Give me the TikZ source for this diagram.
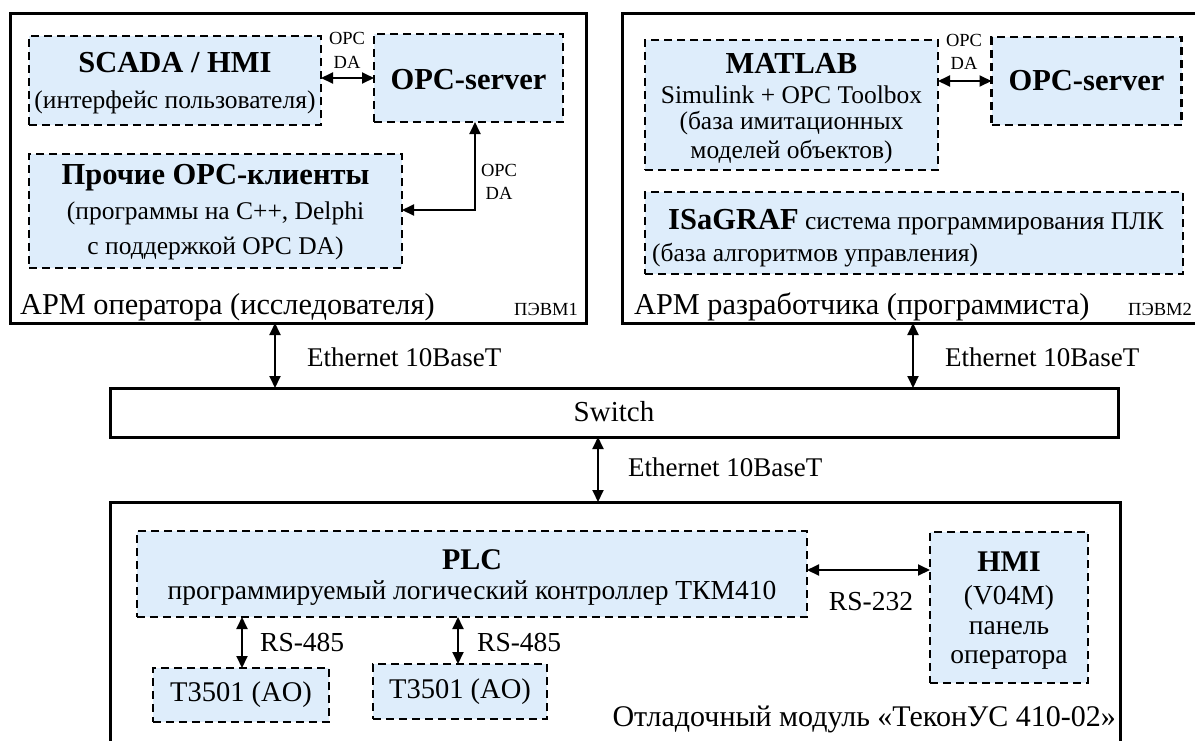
\documentclass[tikz,border=0pt]{standalone}
\usepackage{fontspec}
\setmainfont{Liberation Serif}
\usetikzlibrary{arrows.meta}
\definecolor{boxblue}{RGB}{222,237,251}
\newcommand\fsz[1]{\fontsize{#1}{#1}\selectfont}
\begin{document}
\begin{tikzpicture}[x=1pt,y=-1pt,
  dbox/.style={draw, fill=boxblue, line width=2.3pt, dash pattern=on 8pt off 5pt, inner sep=0pt, outer sep=0pt},
  obox/.style={draw, line width=3pt, inner sep=0pt, outer sep=0pt},
  arr/.style={line width=1.9pt, {Triangle[length=12pt,width=11pt]}-{Triangle[length=12pt,width=11pt]}},
  lbl/.style={inner sep=0pt},
  ttl/.style={lbl, font=\fsz{30.5}\bfseries},
  bttl/.style={lbl, font=\fsz{30}\bfseries},
  txt/.style={lbl, font=\fsz{25.5}},
  btxt/.style={lbl, font=\fsz{27.5}},
  small/.style={lbl, font=\fsz{18.5}},
  arm/.style={lbl, font=\fsz{30.3}, anchor=west},
  eth/.style={lbl, font=\fsz{27}, anchor=west}]
\useasboundingbox (0,0) rectangle (1195,740);
\fill[white] (0,0) rectangle (1195,740);
% outer boxes
\node[obox, minimum width=576pt, minimum height=310pt] (apl) at (298,168) {};
\node[obox, minimum width=575pt, minimum height=310pt] (apr) at (909.5,168) {};
\node[obox, minimum width=1008pt, minimum height=49pt] (sw) at (614,412.5) {};
\node[obox, minimum width=1010pt, minimum height=248pt] (bot) at (615,626) {};
% top-left
\node[dbox, minimum width=292pt, minimum height=89pt] (scada) at (175,80.5) {};
\node[dbox, minimum width=189pt, minimum height=88pt] (opc1) at (468.5,78) {};
\node[dbox, minimum width=373pt, minimum height=114pt] (proch) at (215.5,211) {};
\node[ttl] (t_scada) at (175,63) {SCADA / HMI};
\node[txt] (t_scada2) at (175,102) {(интерфейс пользователя)};
\node[ttl] (t_opc1) at (468.5,80) {OPC-server};
\node[ttl] (t_pr) at (215.5,178) {Прочие OPC-клиенты};
\node[txt] (t_pr2) at (215.5,213) {(программы на C++, Delphi};
\node[txt] (t_pr3) at (215.5,248) {с поддержкой OPC DA)};
\node[small] (o1a) at (347,38) {OPC};
\node[small] (o1b) at (347,62) {DA};
\node[small] (o2a) at (499,170) {OPC};
\node[small] (o2b) at (499,193) {DA};
\node[arm] (arm1) at (20,307) {АРМ оператора (исследователя)};
\node[small, anchor=east] (pc1) at (578,309) {ПЭВМ1};
\draw[arr] (scada.east |- opc1.west) -- (opc1.west);
\coordinate (k1) at (475,210);
\draw[arr] (k1 |- opc1.south) -- (k1) -- (k1 -| proch.east);
% top-right
\node[dbox, minimum width=293pt, minimum height=130pt] (matlab) at (791.5,105) {};
\node[dbox, minimum width=190pt, minimum height=88pt] (opc2) at (1086.5,81) {};
\node[dbox, minimum width=538pt, minimum height=82pt] (isa) at (914,233) {};
\node[ttl] (t_ml) at (791.5,63) {MATLAB};
\node[txt] (t_ml2) at (791.5,95) {Simulink + OPC Toolbox};
\node[txt] (t_ml3) at (791.5,123) {(база имитационных};
\node[txt] (t_ml4) at (791.5,152) {моделей объектов)};
\node[ttl] (t_opc2) at (1086.5,81) {OPC-server};
\node[lbl, anchor=west, font=\fsz{25.5}] (t_isa) at (668,222) {{\fsz{30.5}\bfseries ISaGRAF} система программирования ПЛК};
\node[txt, anchor=west] (t_isa2) at (652,255) {(база алгоритмов управления)};
\node[small] (o3a) at (964,40) {OPC};
\node[small] (o3b) at (964,63) {DA};
\node[arm] (arm2) at (634,307) {АРМ разработчика (программиста)};
\node[small, anchor=west] (pc2) at (1128,309) {ПЭВМ2};
\draw[arr] (matlab.east |- opc2.west) -- (opc2.west);
% switch
\node[lbl, font=\fsz{29}] (t_sw) at (614,412) {Switch};
\coordinate (e1) at (275,0);
\coordinate (e2) at (913,0);
\coordinate (e3) at (598,0);
\draw[arr] (e1 |- apl.south) -- (e1 |- sw.north);
\draw[arr] (e2 |- apr.south) -- (e2 |- sw.north);
\draw[arr] (e3 |- sw.south) -- (e3 |- bot.north);
\node[eth] (eth1) at (307,357) {Ethernet 10BaseT};
\node[eth] (eth2) at (945,357) {Ethernet 10BaseT};
\node[eth] (eth3) at (628,467) {Ethernet 10BaseT};
% bottom
\node[dbox, minimum width=670pt, minimum height=86pt] (plc) at (472,574) {};
\node[dbox, minimum width=158pt, minimum height=151pt] (hmi) at (1009,607.5) {};
\node[dbox, minimum width=176pt, minimum height=54pt] (t1) at (241,695) {};
\node[dbox, minimum width=174pt, minimum height=55pt] (t2) at (460,691.5) {};
\node[bttl] (t_plc) at (472,560) {PLC};
\node[btxt] (t_plc2) at (472,593) {программируемый логический контроллер ТКМ410};
\node[bttl] (t_hmi) at (1009,562) {HMI};
\node[btxt] (t_hmi2) at (1009,598) {(V04M)};
\node[btxt] (t_hmi3) at (1009,628) {панель};
\node[btxt] (t_hmi4) at (1009,660) {оператора};
\node[lbl, font=\fsz{28.5}] (t_t1) at (241,695) {T3501 (AO)};
\node[lbl, font=\fsz{28.5}] (t_t2) at (460,691.5) {T3501 (AO)};
\coordinate (r232) at (0,570);
\draw[arr] (plc.east |- r232) -- (hmi.west |- r232);
\node[btxt] (l232) at (871,602) {RS-232};
\coordinate (e4) at (242,0);
\coordinate (e5) at (458,0);
\draw[arr] (e4 |- plc.south) -- (e4 |- t1.north);
\draw[arr] (e5 |- plc.south) -- (e5 |- t2.north);
\node[btxt, anchor=west] (l485a) at (260,642) {RS-485};
\node[btxt, anchor=west] (l485b) at (477,642) {RS-485};
\node[lbl, font=\fsz{30}, anchor=east] (t_mod) at (1116,719) {Отладочный модуль «ТеконУС 410-02»};
\end{tikzpicture}
\end{document}
